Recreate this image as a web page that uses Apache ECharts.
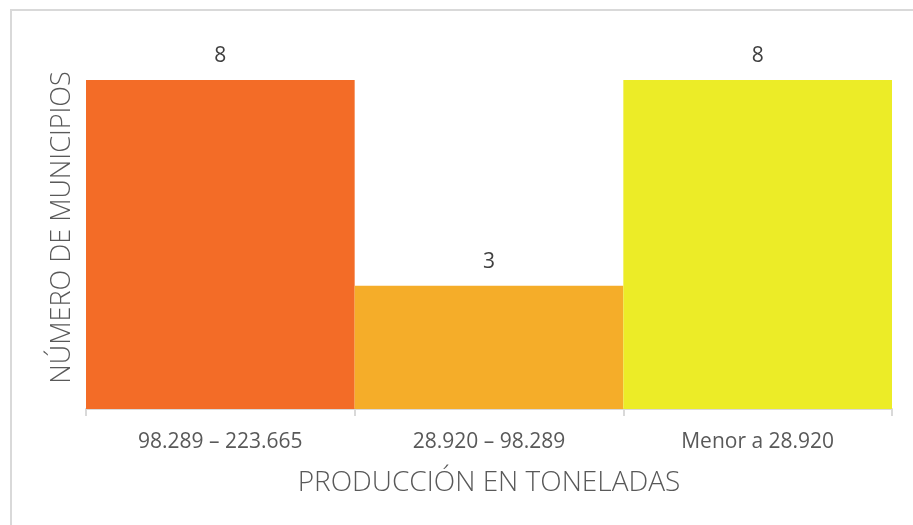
<!DOCTYPE html>
<html>
<head>
<meta charset="utf-8">
<script src="https://cdn.jsdelivr.net/npm/echarts@6/dist/echarts.min.js"></script>
<style>
html,body{margin:0;padding:0;background:#fff;}
#chart{width:913px;height:525px;}
</style>
</head>
<body>
<div id="chart"></div>
<script>
const categories = ['98.289 – 223.665', '28.920 – 98.289', 'Menor a 28.920'];
const values = [8, 3, 8];
const barColors = ['#F36C27', '#F5AD29', '#ECEC27'];
const xAxisName = 'PRODUCCIÓN EN TONELADAS';
const yAxisName = 'NÚMERO DE MUNICIPIOS';

const chart = echarts.init(document.getElementById('chart'));
const font = '"Open Sans", "Noto Sans", sans-serif';
chart.setOption({
  animation: false,
  textStyle: { fontFamily: font },
  graphic: [
    { type: 'polyline', shape: { points: [[11, 525], [11, 10], [913, 10]] },
      style: { stroke: '#d9d9d9', lineWidth: 2, fill: null } }
  ],
  grid: { left: 86, right: 21, top: 80, bottom: 116, containLabel: false },
  xAxis: {
    type: 'category',
    data: categories,
    name: xAxisName,
    nameLocation: 'middle',
    nameGap: 60,
    nameTextStyle: { fontSize: 28, color: '#595959', fontWeight: 300, fontFamily: font },
    axisLine: { lineStyle: { color: '#d9d9d9', width: 2 } },
    axisTick: { show: true, alignWithLabel: false, length: 7, lineStyle: { color: '#d9d9d9', width: 2 } },
    axisLabel: { fontSize: 21, color: '#595959', margin: 23, fontFamily: font }
  },
  yAxis: {
    type: 'value',
    min: 0,
    max: 8,
    name: yAxisName,
    nameLocation: 'middle',
    nameGap: 10,
    nameTextStyle: { fontSize: 27, color: '#595959', fontWeight: 300, fontFamily: font, padding: [0, 0, 0, 34] },
    axisLine: { show: false },
    axisTick: { show: false },
    axisLabel: { show: false },
    splitLine: { show: false }
  },
  series: [{
    type: 'bar',
    data: values.map((v, i) => ({ value: v, itemStyle: { color: barColors[i] } })),
    barWidth: '100%',
    barCategoryGap: '0%',
    label: { show: true, position: 'top', distance: 13, fontSize: 21, color: '#404040', fontFamily: font }
  }]
});
</script>
</body>
</html>
